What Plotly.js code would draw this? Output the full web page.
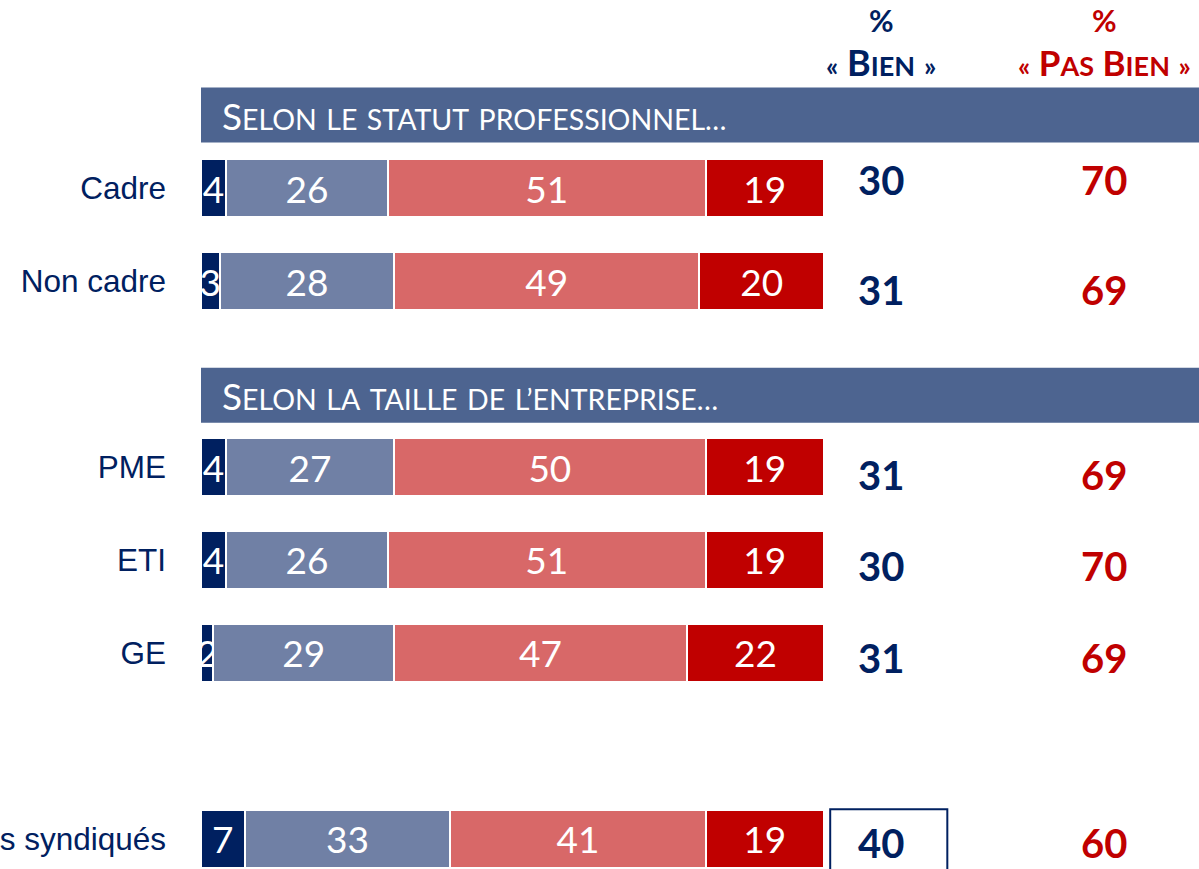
<!DOCTYPE html>
<html>
<head>
<meta charset="utf-8">
<script src="https://cdn.plot.ly/plotly-3.0.1.min.js"></script>
<style>html,body{margin:0;padding:0;background:#fff;}#chart{width:1199px;height:869px;}</style>
</head>
<body>
<div id="chart"></div>
<script>
// ---- data ----
const categories = ["Cadre", "Non cadre", "PME", "ETI", "GE", "s syndiqués"];
const slots = [0, 1, 3, 4, 5, 7];
const trèsBien = [4, 3, 4, 4, 2, 7];
const plutôtBien = [26, 28, 27, 26, 29, 33];
const plutôtPasBien = [51, 49, 50, 51, 47, 41];
const pasDuToutBien = [19, 20, 19, 19, 22, 19];
const totalBien = [30, 31, 31, 30, 31, 40];
const totalPasBien = [70, 69, 69, 70, 69, 60];
const sectionTitles = ["Selon le statut professionnel…", "Selon la taille de l’entreprise…"];
const sectionSlots = [-0.785, 2.228];
const headerBien = "« Bien »";
const headerPasBien = "« Pas Bien »";

// ---- styling ----
const NAVY = "#002060", SLATE = "#7080A5", SALMON = "#D86868", RED = "#C00000", BANNER = "#4D6490";
const calib = "Lato, 'Open Sans', sans-serif";
const arial = "'Liberation Sans', Arial, sans-serif";
const segColors = [NAVY, SLATE, SALMON, RED];
const series = [trèsBien, plutôtBien, plutôtPasBien, pasDuToutBien];
const names = ["Très bien", "Plutôt bien", "Plutôt pas bien", "Pas du tout bien"];
const totalsShift = [8, -9, -8, -6, -5, -4];

const traces = series.map((vals, i) => ({
  type: "bar", orientation: "h", name: names[i],
  x: vals, y: slots, width: 0.615,
  marker: {color: segColors[i], line: {color: "#ffffff", width: 2}},
  text: vals.map(String), textposition: "inside", insidetextanchor: "middle",
  textangle: 0, constraintext: "none", cliponaxis: false,
  textfont: {family: calib, size: 37, color: "#ffffff"},
  hoverinfo: "skip", showlegend: false
}));

function smallCaps(str, small) {
  return str.split(" ").map(w => {
    const up = w.toUpperCase();
    const first = w[0];
    if (first === first.toUpperCase() && /[A-Za-zÀ-ÿ]/.test(first)) {
      return first + (up.length > 1 ? "<span style='font-size:" + small + "px'>" + up.slice(1) + "</span>" : "");
    }
    return "<span style='font-size:" + small + "px'>" + up + "</span>";
  }).join(" ");
}

const BIEN_X = 109.2, PASBIEN_X = 145.0;
const annotations = [];
slots.forEach((s, i) => {
  annotations.push({x: BIEN_X, y: s, xref: "x", yref: "y", yshift: totalsShift[i], text: "<b>" + totalBien[i] + "</b>", showarrow: false,
    font: {family: calib, size: 40, color: NAVY}, xanchor: "center", yanchor: "middle"});
  annotations.push({x: PASBIEN_X, y: s, xref: "x", yref: "y", yshift: totalsShift[i], text: "<b>" + totalPasBien[i] + "</b>", showarrow: false,
    font: {family: calib, size: 40, color: RED}, xanchor: "center", yanchor: "middle"});
});
annotations.push({x: BIEN_X, y: -1.81, xref: "x", yref: "y", text: "<b>%</b>", showarrow: false, font: {family: calib, size: 30, color: NAVY}});
annotations.push({x: PASBIEN_X, y: -1.81, xref: "x", yref: "y", text: "<b>%</b>", showarrow: false, font: {family: calib, size: 30, color: RED}});
annotations.push({x: BIEN_X, y: -1.36, xref: "x", yref: "y", text: "<b>" + smallCaps(headerBien, 27) + "</b>", showarrow: false, font: {family: calib, size: 36, color: NAVY}});
annotations.push({x: PASBIEN_X, y: -1.36, xref: "x", yref: "y", text: "<b>" + smallCaps(headerPasBien, 27) + "</b>", showarrow: false, font: {family: calib, size: 35, color: RED}});

const shapes = [];
sectionTitles.forEach((t, i) => {
  shapes.push({type: "rect", xref: "paper", yref: "y", x0: 0, x1: 1, y0: sectionSlots[i] - 0.295, y1: sectionSlots[i] + 0.295,
    fillcolor: BANNER, line: {width: 0}, layer: "below"});
  annotations.push({x: 3.0, y: sectionSlots[i], xref: "x", yref: "y", xanchor: "left", yanchor: "middle",
    text: smallCaps(t, 28.5), showarrow: false, font: {family: calib, size: 37, color: "#ffffff"}});
});
// highlight box around the syndiqués "% Bien"
shapes.push({type: "rect", xref: "x", yref: "y", x0: 101.0, x1: 119.8, y0: 7 - 0.32, y1: 7 + 0.5,
  line: {color: NAVY, width: 2}, fillcolor: "rgba(0,0,0,0)"});

const layout = {
  width: 1199, height: 869,
  margin: {l: 201, r: 0, t: 0, b: 0, pad: 0},
  paper_bgcolor: "#ffffff", plot_bgcolor: "#ffffff",
  barmode: "stack", showlegend: false,
  xaxis: {range: [0, 160.2], visible: false, fixedrange: true},
  yaxis: {range: [7.323, -2.022], tickvals: slots, ticktext: categories, showgrid: false, zeroline: false,
    showline: false, ticks: "", ticklabelstandoff: 34, automargin: false,
    tickfont: {family: arial, size: 31.5, color: NAVY}, fixedrange: true},
  shapes: shapes, annotations: annotations
};
Plotly.newPlot("chart", traces, layout, {displayModeBar: false, staticPlot: true});
</script>
</body>
</html>
